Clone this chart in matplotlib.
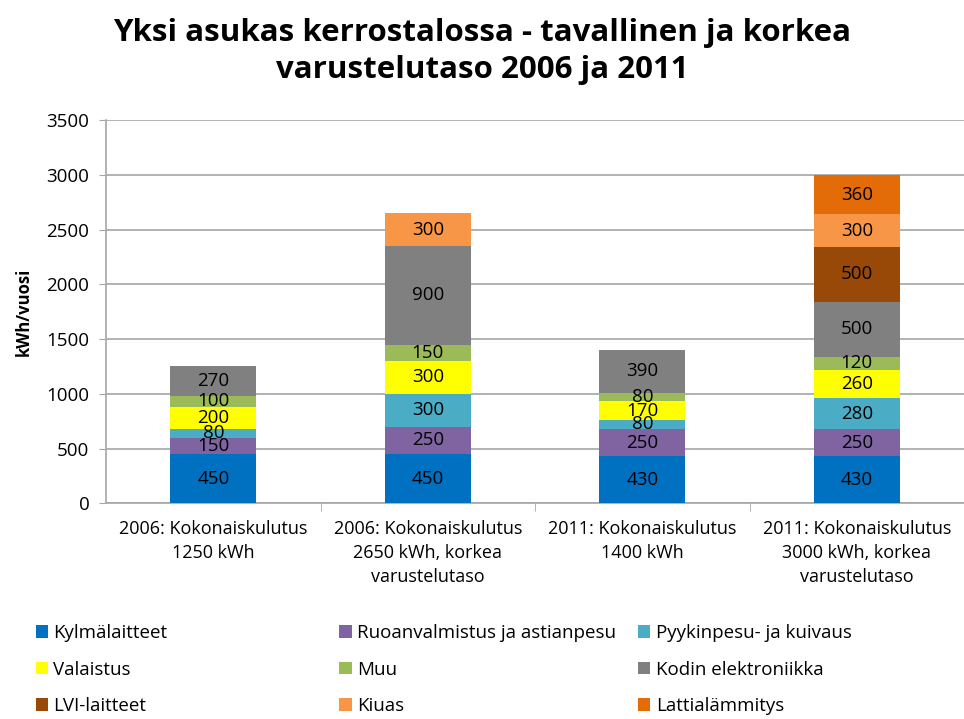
import matplotlib.pyplot as plt
import numpy as np

plt.rcParams['font.family'] = ['Open Sans', 'DejaVu Sans']

# kategoriat ja sarjat
categories = ["2006: Kokonaiskulutus\n1250 kWh",
              "2006: Kokonaiskulutus\n2650 kWh, korkea\nvarustelutaso",
              "2011: Kokonaiskulutus\n1400 kWh",
              "2011: Kokonaiskulutus\n3000 kWh, korkea\nvarustelutaso"]
series_names = ["Kylmälaitteet", "Ruoanvalmistus ja astianpesu", "Pyykinpesu- ja kuivaus",
                "Valaistus", "Muu", "Kodin elektroniikka",
                "LVI-laitteet", "Kiuas", "Lattialämmitys"]
kylma = [450, 450, 430, 430]
ruoka = [150, 250, 250, 250]
pyykki = [80, 300, 80, 280]
valaistus = [200, 300, 170, 260]
muu = [100, 150, 80, 120]
elektroniikka = [270, 900, 390, 500]
lvi = [0, 0, 0, 500]
kiuas = [0, 300, 0, 300]
lattia = [0, 0, 0, 360]
values = [kylma, ruoka, pyykki, valaistus, muu, elektroniikka, lvi, kiuas, lattia]
colors = ["#0070C0", "#8064A2", "#4BACC6", "#FFFF00", "#9BBB59", "#808080",
          "#984807", "#F79646", "#E36C09"]

fig = plt.figure(figsize=(9.64, 7.19), dpi=100)
ax = fig.add_axes([0.110, 0.300, 0.890, 0.533])

x = np.arange(len(categories))
bottom = np.zeros(len(categories))
handles = []
for name, vals, col in zip(series_names, values, colors):
    vals = np.array(vals, dtype=float)
    bars = ax.bar(x, vals, 0.4, bottom=bottom, color=col, label=name, zorder=3)
    handles.append(bars)
    for xi, b, v in zip(x, bottom, vals):
        if v > 0:
            ax.text(xi, b + v / 2, f"{int(v)}", ha='center', va='center',
                    fontsize=13.5, color='black', zorder=4)
    bottom += vals

ax.set_xlim(-0.5, 3.5)
ax.set_ylim(0, 3500)
ax.set_yticks(np.arange(0, 3501, 500))
ax.yaxis.grid(True, color='#A6A6A6', linewidth=1.2, zorder=0)
ax.set_axisbelow(True)
for s in ['top', 'right']:
    ax.spines[s].set_visible(False)
for s in ['left', 'bottom']:
    ax.spines[s].set_color('#A6A6A6')
    ax.spines[s].set_linewidth(1.2)
ax.tick_params(axis='y', length=5, color='#A6A6A6', labelsize=13.5, pad=7)
ax.set_xticks(x)
ax.set_xticklabels(categories, fontsize=13, linespacing=1.42)
ax.tick_params(axis='x', length=0, pad=12)
ax.set_xticks([0.5, 1.5, 2.5], minor=True)
ax.tick_params(axis='x', which='minor', length=6, color='#A6A6A6')
ax.set_ylabel("kWh/vuosi", fontsize=12, fontweight='bold', labelpad=10)

fig.text(0.5, 0.928, "Yksi asukas kerrostalossa - tavallinen ja korkea\nvarustelutaso 2006 ja 2011",
         ha='center', va='center', fontsize=22.5, fontweight='bold', linespacing=1.3)

# selite rivijärjestyksessä: kolme saraketta
col_x = [0.037, 0.352, 0.662]
for c in range(3):
    idx = [c, c + 3, c + 6]
    leg = fig.legend([handles[i] for i in idx], [series_names[i] for i in idx],
                     loc='upper left', bbox_to_anchor=(col_x[c], 0.132),
                     frameon=False, fontsize=13.5, borderpad=0, borderaxespad=0,
                     handlelength=0.65, handleheight=0.65, handletextpad=0.3,
                     labelspacing=0.99)

fig.savefig("out.png", dpi=100)
